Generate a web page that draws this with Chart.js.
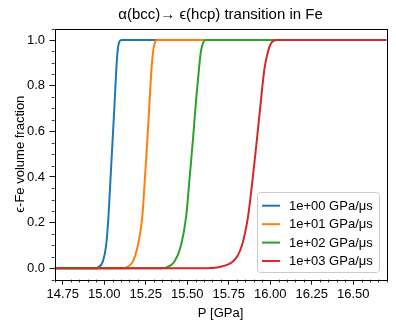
<!DOCTYPE html>
<html>
<head>
<meta charset="utf-8">
<script src="https://cdn.jsdelivr.net/npm/chart.js@4"></script>
<style>
html,body{margin:0;padding:0;background:#fff;}
#wrap{width:396px;height:329px;position:relative;}
</style>
</head>
<body>
<div id="wrap"><canvas id="c" width="396" height="329"></canvas></div>
<script>
// ---- data ----
const seriesLabels = ["1e+00 GPa/\u03bcs", "1e+01 GPa/\u03bcs", "1e+02 GPa/\u03bcs", "1e+03 GPa/\u03bcs"];
const seriesColors = ["#1f77b4", "#ff7f0e", "#2ca02c", "#d62728"];

const p1 = [14.70, 14.943, 14.961, 14.991, 15.011, 15.025, 15.037, 15.049, 15.061, 15.071, 15.080, 15.087, 15.096, 15.106, 16.70];
const f1 = [0, 0, 0.003, 0.029, 0.10, 0.226, 0.387, 0.548, 0.709, 0.855, 0.95, 0.985, 0.998, 1, 1];

const p2 = [14.70, 15.112, 15.131, 15.172, 15.202, 15.229, 15.244, 15.258, 15.272, 15.284, 15.294, 15.303, 15.311, 15.322, 16.70];
const f2 = [0, 0, 0.003, 0.029, 0.10, 0.226, 0.387, 0.548, 0.72, 0.87, 0.95, 0.985, 0.998, 1, 1];

const p3 = [14.70, 15.346, 15.372, 15.422, 15.462, 15.493, 15.513, 15.534, 15.553, 15.570, 15.582, 15.594, 15.604, 15.619, 16.70];
const f3 = [0, 0, 0.003, 0.029, 0.10, 0.226, 0.387, 0.563, 0.738, 0.87, 0.95, 0.985, 0.998, 1, 1];

const p4 = [14.70, 15.604, 15.642, 15.702, 15.773, 15.803, 15.829, 15.848, 15.866, 15.893, 15.917, 15.940, 15.964, 15.986, 16.004, 16.022, 16.043, 16.70];
const f4 = [0, 0, 0.001, 0.007, 0.029, 0.055, 0.10, 0.155, 0.226, 0.387, 0.548, 0.709, 0.87, 0.95, 0.985, 0.998, 1, 1];

const xTickValues = [14.75, 15.00, 15.25, 15.50, 15.75, 16.00, 16.25, 16.50];
const xTickLabels = ["14.75", "15.00", "15.25", "15.50", "15.75", "16.00", "16.25", "16.50"];
const yTickValues = [0.0, 0.2, 0.4, 0.6, 0.8, 1.0];
const yTickLabels = ["0.0", "0.2", "0.4", "0.6", "0.8", "1.0"];

const FONT = "'Liberation Sans', Arial, sans-serif";

function pts(p, f) { return p.map((v, i) => ({x: v, y: f[i]})); }
const allP = [p1, p2, p3, p4], allF = [f1, f2, f3, f4];

const datasets = seriesLabels.map((lab, i) => ({
  label: lab,
  data: pts(allP[i], allF[i]),
  borderColor: seriesColors[i],
  backgroundColor: seriesColors[i],
  borderWidth: 2,
  pointRadius: 0,
  showLine: true,
  fill: false,
  cubicInterpolationMode: 'monotone',
  order: 4 - i
}));

const framePlugin = {
  id: 'frame',
  afterDraw(chart) {
    const ctx = chart.ctx, a = chart.chartArea;
    const xs = chart.scales.x, ys = chart.scales.y;
    ctx.save();
    // minor ticks
    ctx.strokeStyle = '#000';
    ctx.lineWidth = 0.8;
    ctx.beginPath();
    for (let k = 0; k <= 40; k++) {
      const v = 14.70 + k * 0.05;
      const isMajor = xTickValues.some(t => Math.abs(t - v) < 1e-6);
      if (isMajor || v > 16.7 + 1e-9) continue;
      const px = Math.round(xs.getPixelForValue(v)) + 0.5;
      ctx.moveTo(px, a.bottom);
      ctx.lineTo(px, a.bottom + 2.7);
    }
    for (let k = -1; k <= 21; k++) {
      const v = k * 0.05;
      if (v < -0.05 - 1e-9 || v > 1.05 + 1e-9) continue;
      const isMajor = yTickValues.some(t => Math.abs(t - v) < 1e-6);
      if (isMajor) continue;
      const py = Math.round(ys.getPixelForValue(v)) + 0.5;
      ctx.moveTo(a.left, py);
      ctx.lineTo(a.left - 2.7, py);
    }
    ctx.stroke();
    // frame
    ctx.strokeStyle = '#000';
    ctx.lineWidth = 1;
    ctx.strokeRect(Math.round(a.left) + 0.5, Math.round(a.top) + 0.5,
                   Math.round(a.right) - Math.round(a.left), Math.round(a.bottom) - Math.round(a.top));
    // legend
    const bx = 257.5, by = 192.5, bw = 122, bh = 80, r = 3;
    ctx.globalAlpha = 0.8;
    ctx.fillStyle = '#fff';
    ctx.beginPath();
    ctx.roundRect(bx, by, bw, bh, r);
    ctx.fill();
    ctx.globalAlpha = 1;
    ctx.strokeStyle = '#cccccc';
    ctx.lineWidth = 1;
    ctx.stroke();
    ctx.font = '13px ' + FONT;
    ctx.textBaseline = 'middle';
    ctx.textAlign = 'left';
    chart.data.datasets.forEach((d, i) => {
      const y = 205.7 + i * 18.45;
      ctx.strokeStyle = d.borderColor;
      ctx.lineWidth = 2;
      ctx.beginPath();
      ctx.moveTo(262, y);
      ctx.lineTo(280, y);
      ctx.stroke();
      ctx.fillStyle = '#000';
      ctx.fillText(d.label, 289, y + 0.5);
    });
    ctx.restore();
  }
};

new Chart(document.getElementById('c'), {
  type: 'scatter',
  data: { datasets },
  options: {
    responsive: false,
    animation: false,
    devicePixelRatio: 1,
    layout: { padding: { left: 0, right: 9.5, top: 0, bottom: 0 } },
    plugins: {
      legend: { display: false },
      tooltip: { enabled: false },
      title: {
        display: true,
        fullSize: false,
        text: '\u03b1(bcc)\u2192 \u03f5(hcp) transition in Fe',
        color: '#000',
        font: { family: FONT, size: 15, weight: 'normal' },
        padding: { top: 6, bottom: 4.6 }
      }
    },
    scales: {
      x: {
        type: 'linear',
        min: 14.70,
        max: 16.70,
        afterFit(s) { s.height = 49.3; },
        afterBuildTicks(s) { s.ticks = xTickValues.map(v => ({value: v})); },
        border: { display: false },
        grid: { display: true, drawOnChartArea: false, drawTicks: true, tickLength: 5, tickColor: '#000', tickWidth: 0.9 },
        ticks: {
          color: '#000', font: { family: FONT, size: 13 }, padding: 1.5, maxRotation: 0, autoSkip: false,
          callback(v, i) { return xTickLabels[i]; }
        },
        title: { display: true, text: 'P [GPa]', color: '#000', font: { family: FONT, size: 13 }, padding: { top: 0, bottom: 8.2 } }
      },
      y: {
        type: 'linear',
        min: -0.05,
        max: 1.05,
        afterFit(s) { s.width = 54.5; },
        afterBuildTicks(s) { s.ticks = yTickValues.map(v => ({value: v})); },
        border: { display: false },
        grid: { display: true, drawOnChartArea: false, drawTicks: true, tickLength: 5, tickColor: '#000', tickWidth: 0.9 },
        ticks: {
          color: '#000', font: { family: FONT, size: 13 }, padding: 4.5, autoSkip: false,
          callback(v, i) { return yTickLabels[i]; }
        },
        title: { display: true, text: '\u03f5-Fe volume fraction', color: '#000', font: { family: FONT, size: 13 }, padding: { top: 13, bottom: 0 } }
      }
    }
  },
  plugins: [framePlugin]
});
</script>
</body>
</html>
